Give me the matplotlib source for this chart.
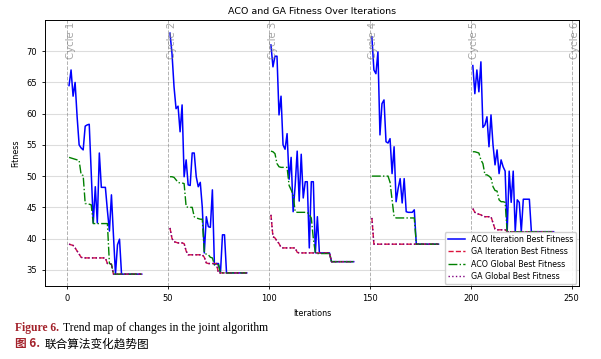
import numpy as np
import matplotlib
matplotlib.use("Agg")
import matplotlib.pyplot as plt

# cycle starts and per-iteration values
cycle_starts = [0, 50, 100, 150, 200, 250]

aco_iter = [
    [64.5, 67.0, 62.8, 65.0, 59.5, 55.0, 54.5, 54.2, 58.0, 58.2, 58.3, 50.5, 42.5, 48.3,
     42.5, 53.7, 48.2, 48.2, 48.2, 44.5, 41.2, 47.0, 40.5, 34.3, 39.0, 39.9, 34.3] + [34.3] * 10,
    [72.9, 69.6, 64.3, 60.8, 61.2, 57.1, 61.4, 49.9, 52.6, 48.6, 48.5, 53.7, 53.7, 49.9,
     48.3, 49.0, 45.0, 37.7, 43.5, 41.9, 41.8, 47.8, 35.8, 36.0, 36.0, 34.5, 40.6, 40.6,
     34.5] + [34.5] * 10,
    [71.0, 67.5, 69.2, 69.2, 59.8, 62.8, 55.0, 54.3, 56.8, 49.5, 53.0, 44.3, 48.5, 54.0,
     46.0, 53.5, 46.5, 49.1, 49.1, 38.5, 49.1, 49.1, 37.7, 43.5, 37.7] + [37.7] * 5
    + [36.3] * 12,
    [72.3, 67.0, 66.4, 69.9, 56.6, 61.6, 62.2, 55.5, 55.3, 56.0, 50.4, 54.7, 45.9, 48.0,
     49.6, 45.7, 49.6, 44.3, 44.2, 44.2, 44.2, 44.6, 39.1] + [39.1] * 11,
    [67.7, 63.2, 67.0, 63.5, 68.3, 57.8, 58.2, 59.5, 54.7, 59.8, 55.0, 51.8, 54.2, 50.4,
     52.6, 51.5, 50.8, 41.0, 50.8, 45.8, 50.8, 41.1, 46.2, 45.8, 41.1, 46.3, 46.3, 46.3,
     46.3, 41.1] + [41.1] * 11,
]

aco_glob = [
    [53.0, 52.9, 52.8, 52.7, 52.6, 52.5, 50.2, 50.1, 45.6, 45.6, 45.5, 45.4, 42.4]
    + [42.4] * 7 + [36.0, 35.9, 34.3] + [34.3] * 14,
    [49.9, 49.9, 49.8, 49.4, 49.0, 48.9, 48.9, 48.8, 45.1, 45.0, 45.0, 45.0, 43.5, 43.3,
     43.2, 43.1, 43.1, 37.7, 37.5, 37.4, 37.0, 36.9, 35.8, 35.8, 35.8, 34.5] + [34.5] * 13,
    [54.0, 53.9, 53.6, 52.0, 51.5, 51.4, 51.4, 51.4, 51.4, 48.5, 47.8, 47.0, 44.3]
    + [44.2] * 6 + [43.8, 43.3, 40.0, 37.7] + [37.6] * 7 + [36.3] * 12,
    [50.0] * 9 + [49.0, 46.2, 43.5] + [43.3] * 10 + [39.1] * 12,
    [53.9, 53.9, 53.8, 53.7, 52.6, 52.0, 50.2, 50.2, 50.0, 49.7, 48.3, 47.7, 47.6, 46.2,
     45.9, 45.9, 45.8, 41.1] + [41.1] * 23,
]

ga_iter = [
    [39.1, 39.0, 38.9, 38.5, 38.0, 37.5, 37.0] + [36.9] * 12 + [36.0, 35.9, 35.9, 34.3]
    + [34.3] * 14,
    [41.7, 40.0, 39.5, 39.4, 39.3, 39.3, 39.3, 39.2, 38.0, 37.4] + [37.4] * 7
    + [37.0, 36.1] + [36.0] * 5 + [34.5] * 15,
    [43.8, 40.3, 40.1, 39.6, 39.2, 38.6] + [38.5] * 7 + [37.8] + [37.7] * 16 + [36.3] * 12,
    [43.3] + [39.1] * 33,
    [44.8, 44.2, 44.0, 43.9, 43.8, 43.6, 43.5, 43.5, 43.5, 43.5, 42.5, 41.5] + [41.4] * 5
    + [41.1] * 24,
]
ga_glob = [list(v) for v in ga_iter]

fig = plt.figure(figsize=(6.01, 3.59), dpi=100)
ax = fig.add_axes([0.0749, 0.2033, 0.8882, 0.7410])

for i in range(5):
    x = np.arange(len(aco_iter[i])) + cycle_starts[i] + 1
    ax.plot(x, aco_iter[i], color="blue", lw=1.1,
            label="ACO Iteration Best Fitness" if i == 0 else None)
    ax.plot(x, ga_iter[i], color="crimson", ls="--", lw=1.0,
            label="GA Iteration Best Fitness" if i == 0 else None)
    ax.plot(x, aco_glob[i], color="green", ls="-.", lw=1.0,
            label="ACO Global Best Fitness" if i == 0 else None)
    ax.plot(x, ga_glob[i], color="purple", ls=":", lw=1.0,
            label="GA Global Best Fitness" if i == 0 else None)

for k, c in enumerate(cycle_starts):
    ax.axvline(c, color="gray", ls="--", lw=0.7, alpha=0.6)
    ax.text(c + 1.8, 0.995, f"Cycle {k + 1}", transform=ax.get_xaxis_transform(),
            rotation=90, va="top", ha="center", color="gray", alpha=0.7, fontsize=7.3)

ax.set_xlim(-10.9, 253.5)
ax.set_ylim(32.4, 75.0)
ax.set_xticks([0, 50, 100, 150, 200, 250])
ax.set_yticks([35, 40, 45, 50, 55, 60, 65, 70])
ax.yaxis.grid(True, color="#dddddd", lw=0.8)
ax.set_axisbelow(True)
ax.tick_params(labelsize=6.0, length=2.5, width=0.6)
for s in ax.spines.values():
    s.set_linewidth(0.7)
ax.set_title("ACO and GA Fitness Over Iterations", fontsize=6.8, pad=4)
ax.set_xlabel("Iterations", fontsize=5.8, labelpad=4)
ax.set_ylabel("Fitness", fontsize=5.8, labelpad=4)
ax.legend(loc="lower right", fontsize=5.7, framealpha=0.9, handlelength=2.2,
          labelspacing=0.42, borderpad=0.35, borderaxespad=0.3)

# caption: red label followed directly by the text
fig.canvas.draw()
r = fig.canvas.get_renderer()
t1 = fig.text(0.025, 0.078, "Figure 6.", fontsize=8.4, family="Liberation Serif",
              weight="bold", color="#a3222b", va="baseline")
w1 = t1.get_window_extent(r).width / fig.bbox.width
fig.text(0.025 + w1 + 0.006, 0.078, "Trend map of changes in the joint algorithm",
         fontsize=8.4, family="Liberation Serif", color="black", va="baseline")
t2 = fig.text(0.025, 0.033, "图 6.", fontsize=8.4, family=["Noto Sans CJK SC", "DejaVu Sans"],
              weight="bold", color="#a3222b", va="baseline")
w2 = t2.get_window_extent(r).width / fig.bbox.width
fig.text(0.025 + w2 + 0.008, 0.033, "联合算法变化趋势图", fontsize=8.4,
         family=["Noto Sans CJK SC", "DejaVu Sans"], color="black", va="baseline")

fig.savefig("out.png", dpi=100)
